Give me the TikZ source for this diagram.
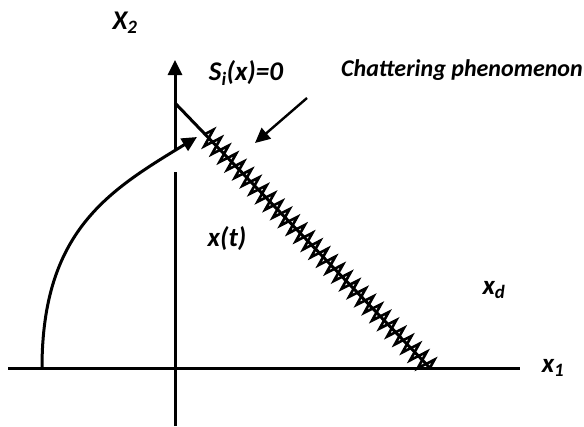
\documentclass[tikz,border=0pt]{standalone}
\usepackage{fontspec}
\setmainfont{Carlito}
\usetikzlibrary{arrows.meta,decorations.pathmorphing}

\begin{document}
\begin{tikzpicture}[x=1pt,y=-1pt,line width=3pt,
  lbl/.style={font=\fontsize{27}{32}\selectfont\bfseries\itshape,inner sep=0pt},
  tip/.style={-{Triangle[length=15pt,width=14pt]}}]
  \useasboundingbox (0,0) rectangle (584,426);
  % axes
  \coordinate (xl) at (8,368);
  \coordinate (xr) at (520,368);
  \coordinate (yb) at (175,426);
  \coordinate (yg) at (175,172);
  \coordinate (yh) at (175,150);
  \coordinate (yt) at (175,60);
  \draw (xl) -- (xr);
  \draw (yb) -- (yg);
  \draw[tip] (yh) -- (yt);
  % sliding surface with chattering
  \coordinate (s0) at (175,103);
  \coordinate (sz) at (205,134);
  \coordinate (s1) at (430,368);
  \draw (s0) -- (s1);
  \draw[line width=2.6pt,line join=miter,decorate,
    decoration={zigzag,segment length=11pt,amplitude=9pt}] (sz) -- (s1);
  % trajectory
  \coordinate (tr0) at (42,368);
  \coordinate (tr1) at (197,137);
  \draw[tip] (tr0) .. controls (42,230) and (110,190) .. (tr1);
  % pointer
  \coordinate (ch0) at (307,98);
  \coordinate (ch1) at (255,143);
  \draw[tip,line width=2.4pt] (ch0) -- (ch1);
  % labels
  \node[lbl] (lx2) at (125,23) {X\textsubscript{2}};
  \node[lbl] (ls) at (246,73) {S\textsubscript{i}(x)=0};
  \node[lbl,font=\fontsize{24}{28}\selectfont\bfseries\itshape] (lch) at (462,70) {Chattering phenomenon};
  \node[lbl] (lxt) at (227,239) {x(t)};
  \node[lbl] (lxd) at (494,290) {x\textsubscript{d}};
  \node[lbl] (lx1) at (553,368) {x\textsubscript{1}};
\end{tikzpicture}
\end{document}
